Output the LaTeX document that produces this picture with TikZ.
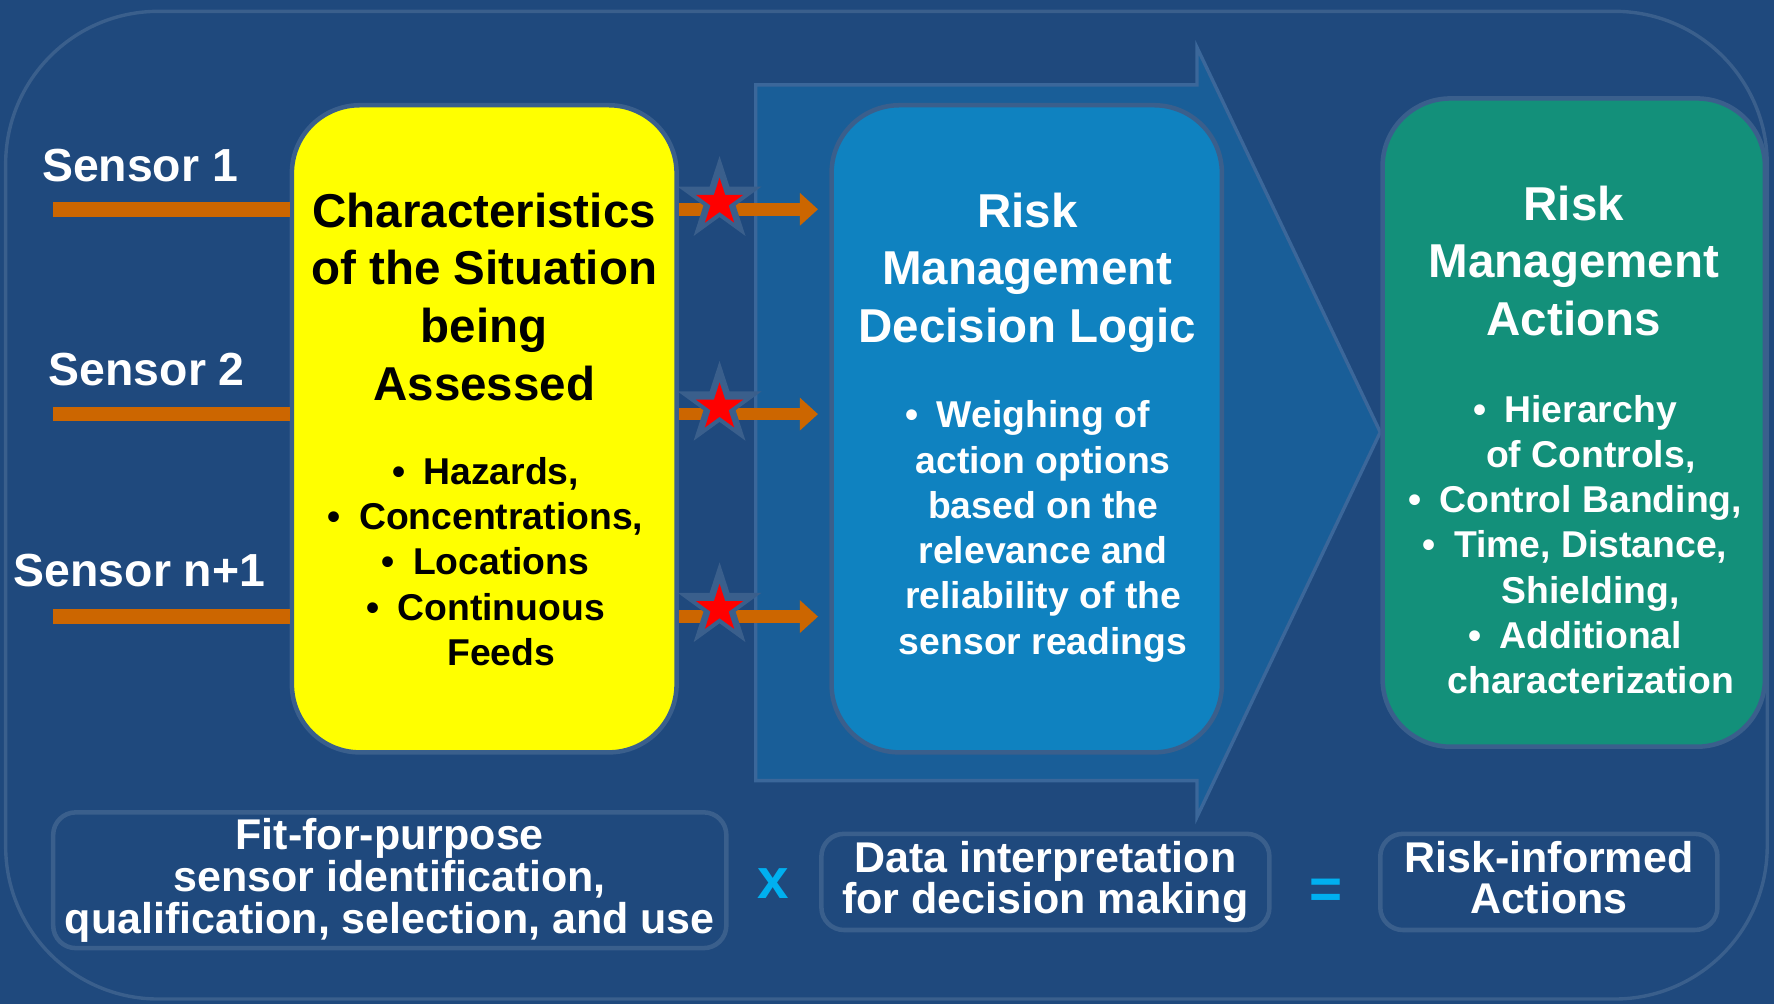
\documentclass[tikz,border=0pt]{standalone}
\usepackage{fontspec}
\setmainfont{Liberation Sans}
\usetikzlibrary{arrows.meta,shapes.geometric}
\definecolor{bg}{HTML}{1F497D}
\definecolor{frame}{HTML}{3A5F8C}
\definecolor{arrowfill}{HTML}{195E98}
\definecolor{arrowline}{HTML}{3B679A}
\definecolor{boxblue}{HTML}{0F82C0}
\definecolor{boxgreen}{HTML}{13907A}
\definecolor{boxyellow}{HTML}{FFFF00}
\definecolor{sensororange}{HTML}{CC6600}
\definecolor{opcyan}{HTML}{00B0F0}
\newcommand\bul{\llap{\textbullet\hspace{16pt}}}
\begin{document}
\begin{tikzpicture}[x=1pt,y=-1pt,
  mainbox/.style={draw=frame, line width=4pt, rounded corners=60pt, inner sep=0pt},
  titletext/.style={font=\fontsize{42}{51}\selectfont\bfseries, align=center, inner sep=0pt, anchor=north},
  bullettext/.style={font=\fontsize{33}{40}\selectfont\bfseries, align=center, inner sep=0pt, anchor=north},
  bottombox/.style={draw=frame, line width=4pt, rounded corners=20pt, align=center, text=white,
    font=\fontsize{38}{37}\selectfont\bfseries, inner sep=0pt},
  sensorlabel/.style={font=\fontsize{41}{49}\selectfont\bfseries, text=white, anchor=base west, inner sep=0pt},
  sensorline/.style={draw=sensororange, line width=13pt},
  flowarrow/.style={draw=sensororange, line width=11pt, -{Triangle[length=16pt,width=28pt]}, shorten >=10pt},
  staroutline/.style={star, star points=5, star point ratio=2.618, fill=frame, inner sep=0pt, minimum size=78pt},
  starred/.style={star, star points=5, star point ratio=2.618, fill=red, inner sep=0pt, minimum size=44pt},
  operator/.style={font=\fontsize{50}{50}\selectfont\bfseries, text=opcyan, inner sep=0pt}
]
\useasboundingbox (0,0) rectangle (1568,887);
\fill[bg] (0,0) rectangle (1568,887);
% outer frame
\draw[frame, line width=3pt, rounded corners=135pt] (5,10) rectangle (1562,883);
% big block arrow
\draw[arrowline, fill=arrowfill, line width=3pt, line join=miter]
  (668,75) -- (1058,75) -- (1058,42) -- (1220,382) -- (1058,722) -- (1058,690) -- (668,690) -- cycle;
% main boxes
\node[mainbox, fill=boxyellow, minimum width=340pt, minimum height=572pt] (yel) at (428,379) {};
\node[mainbox, fill=boxblue, minimum width=345pt, minimum height=572pt] (blu) at (907.5,379) {};
\node[mainbox, fill=boxgreen, minimum width=338pt, minimum height=573pt] (grn) at (1391,373.5) {};
% texts
\node[titletext, text=black] (yeltitle) at (428,170) {Characteristics\\of the Situation\\being\\Assessed};
\node[bullettext, text=black] (yelbul) at (443,404) {\bul Hazards,\\\bul Concentrations,\\\bul Locations\\\bul Continuous\\Feeds};
\node[titletext, text=white] (blutitle) at (908,170) {Risk\\Management\\Decision Logic};
\node[bullettext, text=white] (blubul) at (922,354) {\bul Weighing of\\action options\\based on the\\relevance and\\reliability of the\\sensor readings};
\node[titletext, text=white] (grntitle) at (1391,164) {Risk\\Management\\Actions};
\node[bullettext, text=white] (grnbul) at (1406,349) {\bul Hierarchy\\of Controls,\\\bul Control Banding,\\\bul Time, Distance,\\Shielding,\\\bul Additional\\characterization};
% sensors
\coordinate (s1) at (47,185);
\coordinate (s2) at (47,366);
\coordinate (s3) at (47,545);
\node[sensorlabel] (lab1) at (37,160) {Sensor 1};
\node[sensorlabel] (lab2) at (43,341) {Sensor 2};
\node[sensorlabel] (lab3) at (12,518) {Sensor n+1};
\foreach \s in {s1,s2,s3}{
  \draw[sensorline] (\s) -- (\s -| yel.west);
  \draw[flowarrow] (\s -| yel.east) -- (\s -| blu.west);
}
% stars
\node[staroutline] (st1o) at (636,177) {};
\node[starred] (st1) at (636,179) {};
\node[staroutline] (st2o) at (636,358) {};
\node[starred] (st2) at (636,360) {};
\node[staroutline] (st3o) at (636,536) {};
\node[starred] (st3) at (636,538) {};
% bottom equation
\node[bottombox, minimum width=595pt, minimum height=120pt] (eq1) at (344.5,778) {Fit-for-purpose\\sensor identification,\\qualification, selection, and use};
\node[operator] (times) at (683,781) {x};
\node[bottombox, minimum width=396pt, minimum height=85pt] (eq2) at (924,779.5) {Data interpretation\\for decision making};
\node[operator] (equals) at (1172,790) {=};
\node[bottombox, minimum width=298pt, minimum height=85pt] (eq3) at (1369,779.5) {Risk-informed\\Actions\vphantom{g}};
\end{tikzpicture}
\end{document}
